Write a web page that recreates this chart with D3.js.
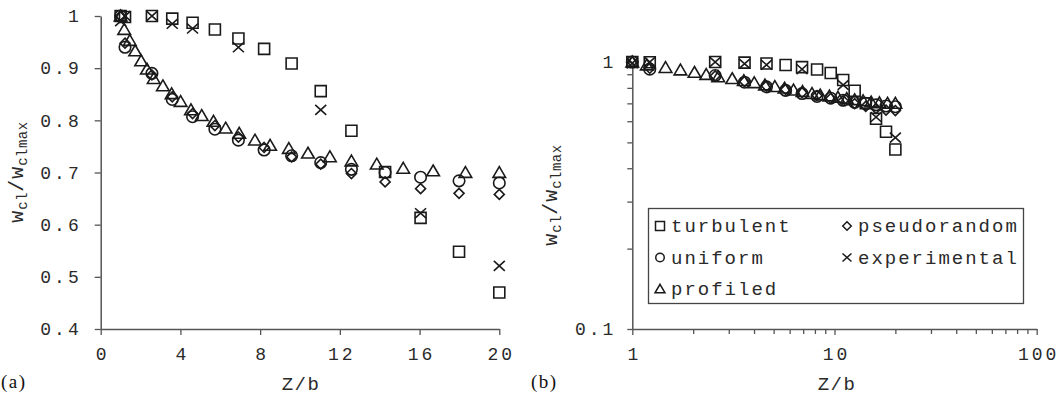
<!DOCTYPE html>
<html>
<head>
<meta charset="utf-8">
<script src="https://cdn.jsdelivr.net/npm/d3@7"></script>
<style>
  html, body { margin: 0; padding: 0; background: #fff; }
  svg { display: block; }
  .mono { font-family: "Liberation Mono", "Courier New", monospace; fill: #2a2a2a; }
  .serif { font-family: "Liberation Serif", "Times New Roman", serif; fill: #111; }
</style>
</head>
<body>
<svg id="chart" width="1059" height="396"></svg>
<script>
// ---------------- data ----------------
const zLES = [1, 1.22, 2.57, 3.59, 4.61, 5.73, 6.91, 8.2, 9.58, 11.04, 12.58, 14.27, 16.05, 17.98, 20];
const turbulent    = [1.0, 0.998, 1.0, 0.995, 0.987, 0.974, 0.957, 0.937, 0.909, 0.856, 0.780, 0.701, 0.613, 0.548, 0.470];
const uniform      = [1.0, 0.940, 0.890, 0.840, 0.807, 0.783, 0.762, 0.743, 0.732, 0.719, 0.706, 0.700, 0.691, 0.684, 0.680];
const pseudorandom = [1.0, 0.948, 0.887, 0.845, 0.813, 0.790, 0.768, 0.748, 0.730, 0.716, 0.698, 0.682, 0.669, 0.660, 0.658];

const zExp = [1, 1.22, 2.57, 3.59, 4.61, 6.91, 11.04, 16.05, 20];
const experimental = [0.99, 1.0, 1.0, 0.985, 0.976, 0.940, 0.820, 0.622, 0.521];

const zProf = [1.0, 1.18, 1.46, 1.73, 2.03, 2.32, 2.66, 3.12, 3.56, 4.01, 4.53, 5.07, 5.66, 6.27, 6.95, 7.74, 8.5, 9.44, 10.4, 11.5, 12.58, 13.85, 15.18, 16.68, 18.3, 20];
const profiled = [1.0, 0.974, 0.953, 0.933, 0.914, 0.898, 0.880, 0.866, 0.851, 0.836, 0.820, 0.809, 0.798, 0.785, 0.775, 0.762, 0.752, 0.746, 0.737, 0.730, 0.722, 0.716, 0.708, 0.703, 0.700, 0.700];

const leftYTicks = [0.4, 0.5, 0.6, 0.7, 0.8, 0.9, 1];
const leftXTicks = [0, 4, 8, 12, 16, 20];
const rightXTicks = [1, 10, 100];
const rightYTicks = [0.1, 1];
const legendLabels = ["turbulent", "uniform", "profiled", "pseudorandom", "experimental"];

// ---------------- symbols ----------------
const shapes = {
  square: s => { const h = s / 2; return `M${-h},${-h}H${h}V${h}H${-h}Z`; },
  circle: s => { const r = s / 2; return `M${r},0A${r},${r} 0 1,1 ${-r},0A${r},${r} 0 1,1 ${r},0Z`; },
  triangle: s => { const w = s / 2 * 1.05, h = s * 0.9; return `M0,${-h * 0.55}L${w},${h * 0.45}L${-w},${h * 0.45}Z`; },
  diamond: s => { const h = s / 2; return `M0,${-h}L${h},0L0,${h}L${-h},0Z`; },
  cross: s => { const h = s / 2; return `M${-h},${-h * 0.9}L${h},${h * 0.9}M${h},${-h * 0.9}L${-h},${h * 0.9}`; }
};

const series = [
  { name: "turbulent", z: zLES, v: turbulent, shape: "square", size: 11 },
  { name: "uniform", z: zLES, v: uniform, shape: "circle", size: 11.5 },
  { name: "profiled", z: zProf, v: profiled, shape: "triangle", size: 12 },
  { name: "pseudorandom", z: zLES, v: pseudorandom, shape: "diamond", size: 10 },
  { name: "experimental", z: zExp, v: experimental, shape: "cross", size: 11 }
];

const svg = d3.select("#chart");
const AX = "#555";
const MK = "#1a1a1a";

function styleAxis(g) {
  g.select(".domain").attr("stroke", AX).attr("stroke-width", 1.5);
  g.selectAll(".tick line").attr("stroke", AX).attr("stroke-width", 1.3);
  g.selectAll(".tick text").attr("class", "mono").attr("fill", "#2a2a2a")
    .style("font-size", "18px").style("letter-spacing", "3px");
}

function drawPoints(g, xs, ys) {
  series.forEach(s => {
    g.append("g").selectAll("path").data(s.z.map((z, i) => [z, s.v[i]])).join("path")
      .attr("transform", d => `translate(${xs(d[0])},${ys(d[1])})`)
      .attr("d", shapes[s.shape](s.size))
      .attr("fill", "none").attr("stroke", MK).attr("stroke-width", 1.6);
  });
}

function yTitle(x, y) {
  const t = svg.append("text").attr("class", "mono")
    .attr("transform", `translate(${x},${y}) rotate(-90)`)
    .attr("text-anchor", "middle").style("font-size", "20px").style("letter-spacing", "1px");
  t.append("tspan").text("w");
  t.append("tspan").attr("dy", 4).style("font-size", "14px").style("letter-spacing", "0.5px").text("cl");
  t.append("tspan").attr("dy", -4).text("/w");
  t.append("tspan").attr("dy", 4).style("font-size", "14px").style("letter-spacing", "0.5px").text("clmax");
}

// ---------------- left panel (a) ----------------
const xL = d3.scaleLinear().domain([0, 20]).range([100.7, 499.3]);
const yL = d3.scaleLinear().domain([0.4, 1]).range([329, 16]);

const gxL = svg.append("g").attr("transform", `translate(0,${yL(0.4)})`)
  .call(d3.axisBottom(xL).tickValues(leftXTicks).tickSize(6).tickSizeOuter(0).tickPadding(12).tickFormat(d3.format("d")));
styleAxis(gxL);
gxL.selectAll(".tick text").attr("dx", 1.5);

const gyL = svg.append("g").attr("transform", `translate(${xL(0)},0)`)
  .call(d3.axisLeft(yL).tickValues(leftYTicks).tickSize(6).tickSizeOuter(0).tickPadding(13).tickFormat(d => d === 1 ? "1" : d3.format(".1f")(d)));
styleAxis(gyL);

drawPoints(svg.append("g"), xL, yL);

svg.append("text").attr("class", "mono").attr("x", 301).attr("y", 390)
  .attr("text-anchor", "middle").style("font-size", "19px").style("letter-spacing", "1.5px").text("Z/b");
yTitle(23, 172);
svg.append("text").attr("class", "serif").attr("x", 1).attr("y", 388)
  .style("font-size", "19px").style("letter-spacing", "1.5px").text("(a)");

// ---------------- right panel (b) ----------------
const xR = d3.scaleLog().domain([1, 100]).range([632.3, 1036.7]);
const yR = d3.scaleLog().domain([0.1, 1]).range([329, 62]);

const xMinor = [];
[1, 10].forEach(b => { for (let k = 2; k <= 9; k++) xMinor.push(b * k); });
const yMinor = [];
for (let k = 2; k <= 9; k++) yMinor.push(k / 10);

const gxR = svg.append("g").attr("transform", `translate(0,${yR(0.1)})`)
  .call(d3.axisBottom(xR).tickValues(rightXTicks.concat(xMinor)).tickSize(6).tickSizeOuter(0).tickPadding(12)
    .tickFormat(d => rightXTicks.includes(d) ? String(d) : ""));
styleAxis(gxR);
gxR.selectAll(".tick text").attr("dx", 1.5);
gxR.selectAll(".tick").filter(d => !rightXTicks.includes(d)).select("line").attr("y2", 5);

const gyR = svg.append("g").attr("transform", `translate(${xR(1)},0)`)
  .call(d3.axisLeft(yR).tickValues(rightYTicks.concat(yMinor)).tickSize(5).tickSizeOuter(0).tickPadding(11)
    .tickFormat(d => d === 1 ? "1" : d === 0.1 ? "0.1" : ""));
styleAxis(gyR);

drawPoints(svg.append("g"), xR, yR);

svg.append("text").attr("class", "mono").attr("x", 837).attr("y", 390)
  .attr("text-anchor", "middle").style("font-size", "19px").style("letter-spacing", "1.5px").text("Z/b");
yTitle(557, 195);
svg.append("text").attr("class", "serif").attr("x", 531).attr("y", 388)
  .style("font-size", "19px").style("letter-spacing", "1.5px").text("(b)");

// ---------------- legend ----------------
const lg = svg.append("g");
lg.append("rect").attr("x", 648.5).attr("y", 208.5).attr("width", 375).attr("height", 95)
  .attr("fill", "#fff").attr("stroke", "#444").attr("stroke-width", 1.3);
const legendPos = [
  { name: "turbulent", col: 0, row: 0 },
  { name: "uniform", col: 0, row: 1 },
  { name: "profiled", col: 0, row: 2 },
  { name: "pseudorandom", col: 1, row: 0 },
  { name: "experimental", col: 1, row: 1 }
];
legendPos.forEach(p => {
  const s = series.find(q => q.name === p.name);
  const mx = p.col === 0 ? 660 : 847;
  const my = 226 + p.row * 31.5;
  lg.append("path").attr("transform", `translate(${mx},${my})`)
    .attr("d", shapes[s.shape](s.shape === "circle" ? 8.5 : s.shape === "triangle" ? 9.5 : s.shape === "diamond" ? 8.5 : 9))
    .attr("fill", "none").attr("stroke", MK).attr("stroke-width", 1.5);
  lg.append("text").attr("class", "mono").attr("x", mx + 11).attr("y", my + 6)
    .style("font-size", "19px").style("letter-spacing", "2px").text(p.name);
});
</script>
</body>
</html>
